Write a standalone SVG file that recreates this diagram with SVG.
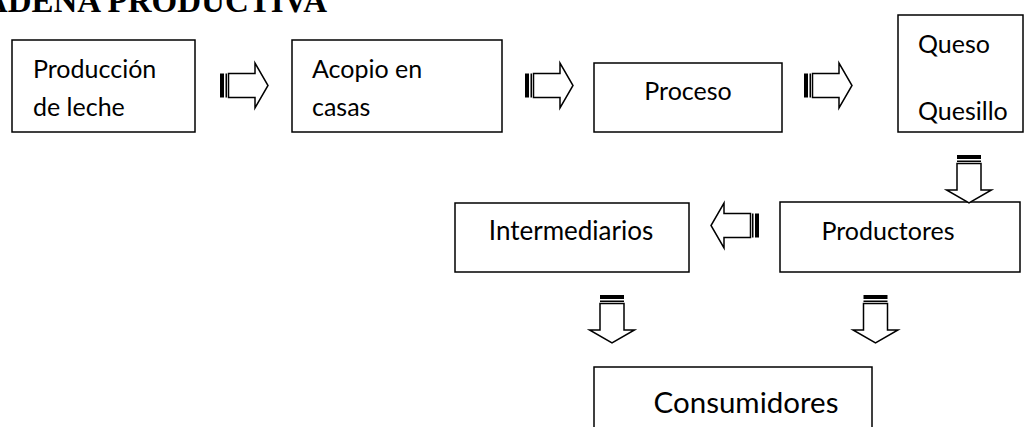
<svg xmlns="http://www.w3.org/2000/svg" width="1027" height="427" viewBox="0 0 1027 427">
<style>
.box{fill:#fff;stroke:#000;stroke-width:1.5}
.t{font-family:Lato,"Open Sans","Liberation Sans",sans-serif;font-size:25px;fill:#000}
.title{font-family:"Liberation Serif","Times New Roman",serif;font-weight:bold;font-size:33px;fill:#000}
</style>
<defs>
<g id="arr">
<rect x="0" y="-12" width="4" height="24" fill="#000"/>
<rect x="5.5" y="-12" width="1.5" height="24" fill="#000"/>
<path d="M8.5,-12 H35 V-22.5 L48,0 L35,22.5 V12 H8.5 Z" fill="#fff" stroke="#000" stroke-width="1.5" stroke-linejoin="miter"/>
</g>
</defs>
<text class="title" x="-40" y="12">CADENA PRODUCTIVA</text>
<g id="n1"><rect class="box" x="12" y="40" width="183" height="92"/><text class="t" x="33" y="78">Producción</text><text class="t" x="33" y="116">de leche</text></g>
<g id="n2"><rect class="box" x="292" y="40" width="210" height="92"/><text class="t" x="312" y="78">Acopio en</text><text class="t" x="312" y="116">casas</text></g>
<g id="n3"><rect class="box" x="594" y="63" width="188" height="69"/><text class="t" x="688" y="100" text-anchor="middle">Proceso</text></g>
<g id="n4"><rect class="box" x="898" y="15" width="125" height="117"/><text class="t" x="918" y="53">Queso</text><text class="t" x="918" y="120">Quesillo</text></g>
<g id="n5"><rect class="box" x="780" y="202" width="240" height="70"/><text class="t" x="888" y="240" text-anchor="middle">Productores</text></g>
<g id="n6"><rect class="box" x="455" y="203" width="234" height="69"/><text class="t" x="571" y="240" text-anchor="middle" style="font-size:26px">Intermediarios</text></g>
<g id="n7"><rect class="box" x="594" y="367" width="278" height="70"/><text class="t" x="746" y="413" text-anchor="middle" style="font-size:29.5px">Consumidores</text></g>
<g id="connectors">
<use href="#arr" transform="translate(220,85.5)"/>
<use href="#arr" transform="translate(525,85.5)"/>
<use href="#arr" transform="translate(804,85.5)"/>
<use href="#arr" transform="translate(969,155) rotate(90)"/>
<use href="#arr" transform="translate(759,225.5) rotate(180)"/>
<use href="#arr" transform="translate(612,295) rotate(90)"/>
<use href="#arr" transform="translate(875.5,295) rotate(90)"/>
</g>
</svg>
